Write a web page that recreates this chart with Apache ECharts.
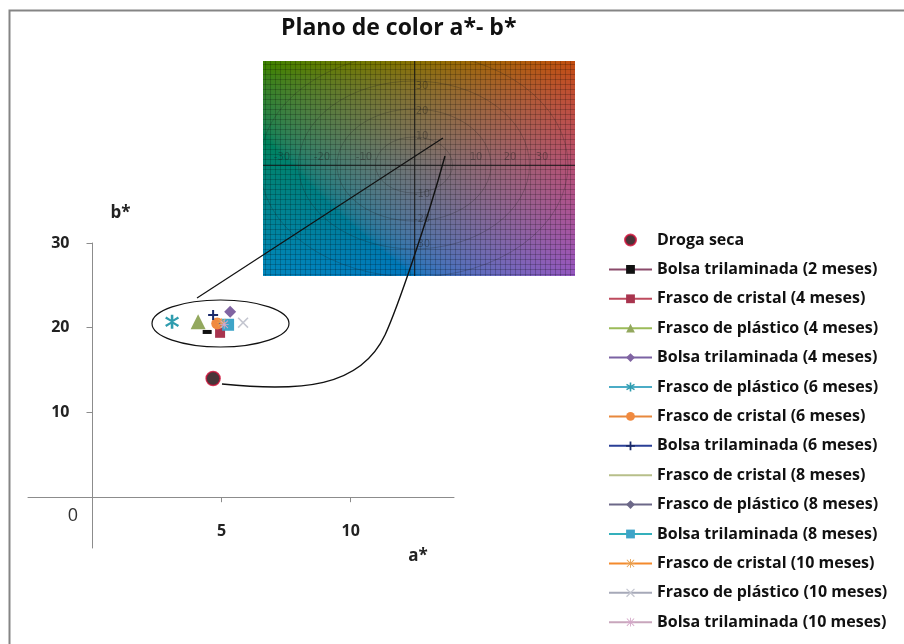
<!DOCTYPE html>
<html>
<head>
<meta charset="utf-8">
<script src="https://cdn.jsdelivr.net/npm/echarts@6/dist/echarts.min.js"></script>
<style>
  html, body { margin: 0; padding: 0; background: #fff; }
  #chart { width: 904px; height: 644px; }
</style>
</head>
<body>
<div id="chart"></div>
<script>
// muestras y coordenadas a*, b*
const seriesNames = [
    'Droga seca',
    'Bolsa trilaminada (2 meses)',
    'Frasco de cristal (4 meses)',
    'Frasco de plástico (4 meses)',
    'Bolsa trilaminada (4 meses)',
    'Frasco de plástico (6 meses)',
    'Frasco de cristal (6 meses)',
    'Bolsa trilaminada (6 meses)',
    'Frasco de cristal (8 meses)',
    'Frasco de plástico (8 meses)',
    'Bolsa trilaminada (8 meses)',
    'Frasco de cristal (10 meses)',
    'Frasco de plástico (10 meses)',
    'Bolsa trilaminada (10 meses)'
]
const aValues = [4.67, 4.44, 4.94, 4.09, 5.33, 3.08, 4.83, 4.67, 4.9, 5.0, 5.25, 5.0, 5.83, 5.1]
const bValues = [14.0, 19.5, 19.4, 20.7, 21.9, 20.7, 20.5, 21.5, 20.6, 20.5, 20.35, 20.6, 20.6, 20.4]
const xTicks = [5, 10]
const yTicks = [10, 20, 30]

// estilo de cada serie: color de linea, color de marcador, simbolo, tamano
const PLUS = 'path://M4,0H6V4H10V6H6V10H4V6H0V4H4Z'
const CROSS = 'path://M1,0L5,4L9,0L10,1L6,5L10,9L9,10L5,6L1,10L0,9L4,5L0,1Z'
const ASTER = 'path://M4.1,0H5.9V10H4.1Z M1,1.2L5,3.9L9,1.2L9.9,2.7L5.9,5L9.9,7.3L9,8.8L5,6.1L1,8.8L0.1,7.3L4.1,5L0.1,2.7Z'
const STAR = 'path://M4.5,0H5.5V10H4.5Z M0,4.5H10V5.5H0Z M1.2,0.5L5,4.3L8.8,0.5L9.5,1.2L5.7,5L9.5,8.8L8.8,9.5L5,5.7L1.2,9.5L0.5,8.8L4.3,5L0.5,1.2Z'
const LINE_ONLY = 'path://M0,0H40V2H0Z'
const styles = [
    null,
    { line: '#8a4a6a', mark: '#111', symbol: 'rect', size: [9, 4] },
    { line: '#be4b5e', mark: '#a8344e', symbol: 'rect', size: 10 },
    { line: '#9bbb59', mark: '#93a85e', symbol: 'triangle', size: 15 },
    { line: '#7b62a3', mark: '#8064a2', symbol: 'diamond', size: 12 },
    { line: '#4bacc6', mark: '#2f9cae', symbol: ASTER, size: 14 },
    { line: '#e8883c', mark: '#f08a40', symbol: 'circle', size: 12 },
    { line: '#2a3f96', mark: '#1a2a6a', symbol: PLUS, size: 10 },
    { line: '#b7bf8a', mark: '#b7bf8a', symbol: 'none', size: 0 },
    { line: '#6c6888', mark: '#6c6888', symbol: 'diamond', size: 6 },
    { line: '#34b0bc', mark: '#3ea4c8', symbol: 'rect', size: 12 },
    { line: '#f48a2c', mark: '#e6a050', symbol: STAR, size: 9 },
    { line: '#a6a9b8', mark: '#c4c6d0', symbol: CROSS, size: 11 },
    { line: '#c8a6bc', mark: '#d4a8c8', symbol: STAR, size: 9 }
]

// imagen del plano a*-b* (fondo decorativo)
function labToRgb(L, a, b){
    const fy = (L + 16) / 116, fx = fy + a / 500, fz = fy - b / 200
    const inv = t => t * t * t > 0.008856 ? t * t * t : (t - 16 / 116) / 7.787
    const X = 0.95047 * inv(fx), Y = inv(fy), Z = 1.08883 * inv(fz)
    let r = 3.2406 * X - 1.5372 * Y - 0.4986 * Z
    let g = -0.9689 * X + 1.8758 * Y + 0.0415 * Z
    let bl = 0.0557 * X - 0.2040 * Y + 1.0570 * Z
    const gam = c => {
        c = Math.max(0, Math.min(1, c))
        return Math.round(255 * (c > 0.0031308 ? 1.055 * Math.pow(c, 1 / 2.4) - 0.055 : 12.92 * c))
    }
    return [gam(r), gam(g), gam(bl)]
}

function makePlane(w, h, ox, oy){
    const cv = document.createElement('canvas')
    cv.width = w
    cv.height = h
    const ctx = cv.getContext('2d')
    const img = ctx.createImageData(w, h)
    for( let y = 0; y < h; y++ ){
        for( let x = 0; x < w; x++ ){
            const bv = y < oy ? (oy - y) / 1.9 : (oy - y) / 2.4
            const c = labToRgb(48, (x - ox) / 3.6, bv)
            const i = (y * w + x) * 4
            img.data[i] = c[0]; img.data[i + 1] = c[1]; img.data[i + 2] = c[2]; img.data[i + 3] = 255
        }
    }
    ctx.putImageData(img, 0, 0)
    // rejilla fina
    ctx.strokeStyle = 'rgba(0,0,0,0.2)'
    ctx.lineWidth = 1
    for( let x = 2; x < w; x += 5 ){ ctx.beginPath(); ctx.moveTo(x + 0.5, 0); ctx.lineTo(x + 0.5, h); ctx.stroke() }
    for( let y = 3; y < h; y += 5 ){ ctx.beginPath(); ctx.moveTo(0, y + 0.5); ctx.lineTo(w, y + 0.5); ctx.stroke() }
    // circulos de croma
    ctx.strokeStyle = 'rgba(30,30,30,0.25)'
    ;[35, 70, 105, 140].forEach(r => { ctx.beginPath(); ctx.ellipse(ox, oy, r * 1.1, r * 0.8, 0, 0, Math.PI * 2); ctx.stroke() })
    // ejes
    ctx.strokeStyle = 'rgba(20,20,20,0.8)'
    ctx.beginPath(); ctx.moveTo(0, oy + 0.5); ctx.lineTo(w, oy + 0.5); ctx.stroke()
    ctx.beginPath(); ctx.moveTo(ox + 0.5, 0); ctx.lineTo(ox + 0.5, h); ctx.stroke()
    return cv
}

const planeX = 263, planeY = 61, planeW = 312, planeH = 215, planeOx = 151, planeOy = 104
const plane = makePlane(planeW, planeH, planeOx, planeOy)

const planeLabels = [
    ['30', 0, -79], ['20', 0, -54], ['10', 0, -29], ['-10', 0, 29], ['-20', 0, 54], ['-30', 0, 79],
    ['-30', -132, -8], ['-20', -92, -8], ['-10', -50, -8], ['10', 62, -8], ['20', 96, -8], ['30', 128, -8]
].map(([t, dx, dy]) => ({
    type: 'text', z: 3,
    style: {
        text: t, x: planeX + planeOx + dx + (dx === 0 ? 8 : 0), y: planeY + planeOy + dy,
        align: 'center', verticalAlign: 'middle',
        fill: 'rgba(30,30,30,0.4)', font: '10px "DejaVu Sans"'
    }
}))

const series = seriesNames.map((name, i) => {
    if( i === 0 ) return {
        name, type: 'scatter', z: 5,
        symbol: 'circle', symbolSize: 14,
        itemStyle: { color: '#1a0208', borderColor: '#d0103a', borderWidth: 1.5 },
        data: [[aValues[i], bValues[i]]]
    }
    const s = styles[i]
    return {
        name, type: 'line', z: 5,
        symbol: s.symbol, symbolSize: s.size, showSymbol: true,
        lineStyle: { color: s.line, width: 2 },
        itemStyle: { color: s.mark },
        data: [[aValues[i], bValues[i]]]
    }
})

const legendData = seriesNames.map((name, i) =>
    styles[i] && styles[i].symbol === 'none'
        ? { name, icon: LINE_ONLY, itemStyle: { color: styles[i].line } }
        : { name })

const chart = echarts.init(document.getElementById('chart'))
const font = '"Open Sans", "DejaVu Sans", sans-serif'

// ejes cruzando en el origen: el origen queda a 64.5 px del borde izquierdo y 50.8 px del inferior
chart.setOption({
    animation: false,
    title: {
        text: 'Plano de color a*- b*',
        left: 276, top: 12,
        textStyle: { fontFamily: font, fontWeight: 'bold', fontSize: 23, color: '#111' }
    },
    legend: {
        orient: 'vertical',
        left: 603, top: 227,
        itemWidth: 43, itemHeight: 11, itemGap: 13.4,
        textStyle: { fontFamily: font, fontWeight: 'bold', fontSize: 16, lineHeight: 16, color: '#111' },
        data: legendData
    },
    grid: { left: 28, right: 450, top: 243, bottom: 96, containLabel: false, outerBoundsMode: 'none' },
    xAxis: {
        type: 'value', min: -2.5, max: 14,
        position: 'bottom', offset: -50.8,
        axisLine: { onZero: false, lineStyle: { color: '#8c8c8c', width: 1 } },
        axisTick: { show: true, length: 5, customValues: xTicks, lineStyle: { color: '#8c8c8c' } },
        axisLabel: {
            customValues: xTicks, margin: 26,
            fontFamily: font, fontWeight: 'bold', fontSize: 16, color: '#222'
        },
        splitLine: { show: false },
        name: 'a*', nameLocation: 'end', nameGap: -36,
        nameTextStyle: {
            fontFamily: font, fontWeight: 'bold', fontSize: 17, color: '#222',
            align: 'center', verticalAlign: 'top', padding: [50, 0, 0, 0]
        }
    },
    yAxis: {
        type: 'value', min: -6, max: 30,
        position: 'left', offset: -64.5,
        axisLine: { onZero: false, lineStyle: { color: '#8c8c8c', width: 1 } },
        axisTick: { show: true, length: 6, customValues: yTicks, lineStyle: { color: '#8c8c8c' } },
        axisLabel: {
            customValues: yTicks, margin: 23,
            fontFamily: font, fontWeight: 'bold', fontSize: 16, color: '#222'
        },
        splitLine: { show: false },
        name: 'b*', nameLocation: 'end', nameGap: 21,
        nameTextStyle: {
            fontFamily: font, fontWeight: 'bold', fontSize: 17, color: '#222',
            align: 'left', padding: [0, 0, 0, 18]
        }
    },
    graphic: [
        // marco del grafico
        { type: 'rect', z: 0, shape: { x: 9.5, y: 10.5, width: 920, height: 660 },
          style: { fill: 'none', stroke: '#858585', lineWidth: 2 } },
        { type: 'image', z: 2, style: { image: plane, x: planeX, y: planeY, width: planeW, height: planeH } },
        ...planeLabels,
        { type: 'text', z: 3, style: { text: '0', x: 73, y: 516, align: 'center', verticalAlign: 'middle',
          fill: '#333', font: '18px "Open Sans", sans-serif' } },
        // elipse y lineas de llamada
        { type: 'ellipse', z: 4, shape: { cx: 220.5, cy: 323.5, rx: 68.5, ry: 23.5 },
          style: { fill: 'none', stroke: '#111', lineWidth: 1.2 } },
        { type: 'line', z: 4, shape: { x1: 197, y1: 298, x2: 443, y2: 138 },
          style: { stroke: '#111', lineWidth: 1.2 } },
        { type: 'bezierCurve', z: 4,
          shape: { x1: 222, y1: 384, cpx1: 300, cpy1: 392, cpx2: 360, cpy2: 388, x2: 385, y2: 335 },
          style: { fill: 'none', stroke: '#111', lineWidth: 1.4 } },
        { type: 'bezierCurve', z: 4,
          shape: { x1: 385, y1: 335, cpx1: 397, cpy1: 309, cpx2: 427, cpy2: 222, x2: 445, y2: 156 },
          style: { fill: 'none', stroke: '#111', lineWidth: 1.4 } }
    ],
    series
})
</script>
</body>
</html>
